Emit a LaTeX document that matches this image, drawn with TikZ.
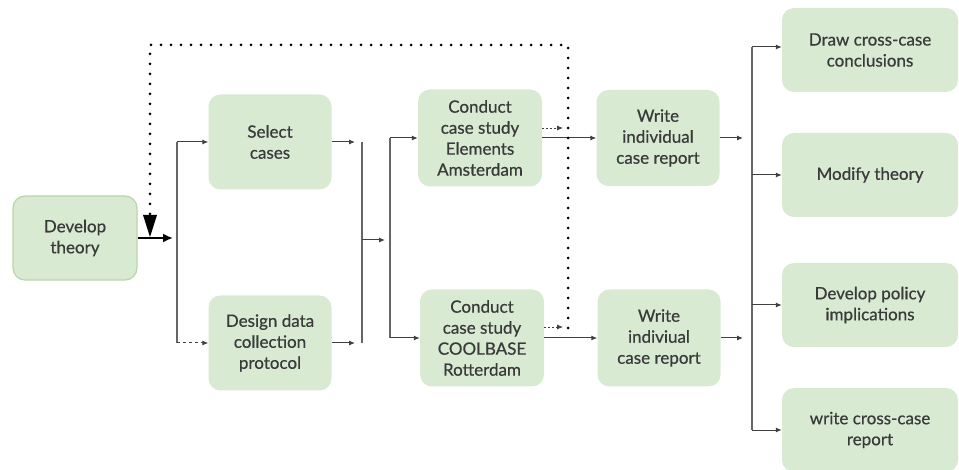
\documentclass[tikz,border=0pt]{standalone}
\usepackage{fontspec}
\setmainfont{Lato}[FakeBold=0.6]
\usetikzlibrary{arrows.meta}
\definecolor{boxfill}{HTML}{D9EAD3}
\definecolor{boxedge}{HTML}{B6D7A8}
\definecolor{txt}{HTML}{3A3A3A}
\definecolor{wire}{HTML}{404040}
\begin{document}
\begin{tikzpicture}[x=1pt,y=-1pt,
  stage/.style={rectangle, rounded corners=12pt, fill=boxfill, draw=none,
    align=center, text=txt, inner sep=0pt,
    font=\fontsize{17}{21}\selectfont},
  link/.style={draw=wire, line width=1pt, -{Latex[length=6pt,width=5pt]}},
  rail/.style={draw=wire!80, line width=1.1pt},
  feedback/.style={draw=black, line width=3pt, line cap=round,
    dash pattern=on 0pt off 10pt},
  fine/.style={draw=wire, line width=0.8pt, dash pattern=on 1.5pt off 2.5pt,
    -{Latex[length=6pt,width=5pt]}}
]
\clip (0,0) rectangle (959,470);
\fill[white] (0,0) rectangle (959,470);

% process stages
\node[stage, draw=boxedge, line width=1.2pt, minimum width=124pt, minimum height=84pt] (dev) at (75,238) {Develop\\theory};
\node[stage, minimum width=123pt, minimum height=95pt] (sel) at (270,142) {Select\\cases};
\node[stage, minimum width=123pt, minimum height=95pt] (des) at (270,343) {Design data\\collection\\protocol};
\node[stage, minimum width=124pt, minimum height=97pt] (ca) at (480,138) {Conduct\\case study\\Elements\\Amsterdam};
\node[stage, minimum width=124pt, minimum height=97pt] (cb) at (482,338) {Conduct\\case study\\COOLBASE\\Rotterdam};
\node[stage, minimum width=123pt, minimum height=96pt] (wa) at (658,138) {Write\\individual\\case report};
\node[stage, minimum width=123pt, minimum height=97pt] (wb) at (659,338) {Write\\indiviual\\case report};
\node[stage, minimum width=176pt, minimum height=84pt] (r1) at (870,50) {Draw cross-case\\conclusions};
\node[stage, minimum width=176pt, minimum height=84pt] (r2) at (870,175) {Modify theory};
\node[stage, minimum width=176pt, minimum height=84pt] (r3) at (870,305) {Develop policy\\implications};
\node[stage, minimum width=176pt, minimum height=84pt] (r4) at (870,430) {write cross-case\\report};

% junction points
\coordinate (s1) at (177,142);
\coordinate (s2) at (177,343);
\coordinate (m1) at (362,142);
\coordinate (m2) at (362,343);
\coordinate (m0) at (362,240);
\coordinate (n1) at (390,138);
\coordinate (n2) at (390,338);
\coordinate (n0) at (385,240);
\coordinate (q1) at (752,47);
\coordinate (q2) at (752,175);
\coordinate (q3) at (752,305);
\coordinate (q4) at (752,430);
\coordinate (fa) at (568,328);
\coordinate (fb) at (568,45);
\coordinate (fc) at (150,45);
\coordinate (fd) at (150,237);
\coordinate (ta) at (563,128);
\coordinate (tb) at (563,327);

% theory into the two preparation steps
\draw[draw=black, line width=1.8pt, -{Latex[length=10pt,width=9pt]}] (dev.east) -- (173,238);
\draw[rail] (s1) -- (s2);
\draw[link] (s1) -- (sel.west);
\draw[link, dashed] (s2) -- (des.west);

% preparation into the case studies
\draw[link] (sel.east) -- (355,142);
\draw[link] (des.east) -- (355,343);
\draw[rail] (m1) -- (m2);
\draw[link] (m0) -- (n0);
\draw[rail] (n1) -- (n2);
\draw[link] (n1) -- (ca.west);
\draw[link] (n2) -- (cb.west);

% case studies into the reports
\draw[link] (ca.east) -- (wa.west);
\draw[link] (cb.east) -- (wb.west);
\draw[link] (wa.east) -- (743,138);
\draw[link] (wb.east) -- (743,338);
\draw[rail] (q1) -- (q4);
\draw[link] (q1) -- (q1 -| r1.west);
\draw[link] (q2) -- (q2 -| r2.west);
\draw[link] (q3) -- (q3 -| r3.west);
\draw[link] (q4) -- (q4 -| r4.west);

% feedback loop back to the theory
\draw[fine] (ca.east |- ta) -- (ta);
\draw[fine] (cb.east |- tb) -- (tb);
\draw[feedback] (fa) -- (fb) -- (fc) -- (150,215);
\fill[black] (143,215) -- (157,215) -- (fd) -- cycle;
\end{tikzpicture}
\end{document}
